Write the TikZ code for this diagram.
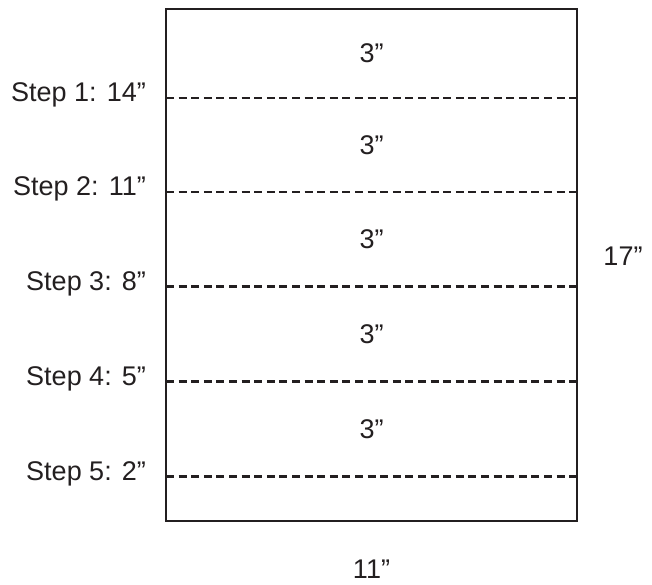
\documentclass[tikz,border=0pt]{standalone}
\usepackage{fontspec}
\setmainfont{Liberation Sans}
\usetikzlibrary{positioning}
\definecolor{ink}{HTML}{231F20}
\tikzset{
    sheet/.style={draw=ink, line width=2.2pt}, % outline of the paper
    fold/.style={draw=ink, line width=2.2pt, dash pattern=on 8pt off 4.6pt}, % the fold lines
    label text/.style={inner sep=0pt, text=ink, font=\fontsize{27}{32}\selectfont},
    steplabel/.style={label text, yshift=-3.5pt}, % baseline sits just below the fold
    sizelabel/.style={label text},
}

\begin{document}
\begin{tikzpicture}[x=1pt, y=-1pt]
    \useasboundingbox (0,0) rectangle (652,584);

    % corners of the sheet
    \coordinate (nw) at (166,9);
    \coordinate (se) at (577,521);
    % left and right ends of the folds
    \coordinate (f1w) at (166,97.7);  \coordinate (f1e) at (577,97.7);
    \coordinate (f2w) at (166,192);   \coordinate (f2e) at (577,192);
    \coordinate (f3w) at (166,286.5); \coordinate (f3e) at (577,286.5);
    \coordinate (f4w) at (166,381.5); \coordinate (f4e) at (577,381.5);
    \coordinate (f5w) at (166,476.5); \coordinate (f5e) at (577,476.5);

    \draw[fold] (f1w) -- (f1e);
    \draw[fold] (f2w) -- (f2e);
    \draw[fold] (f3w) -- (f3e);
    \draw[fold] (f4w) -- (f4e);
    \draw[fold] (f5w) -- (f5e);
    \draw[sheet] (nw) rectangle (se);

    \node[steplabel, left=20pt of f1w, anchor=base east] (step1) {Step 1: 14”};
    \node[steplabel, left=20pt of f2w, anchor=base east] (step2) {Step 2: 11”};
    \node[steplabel, left=20pt of f3w, anchor=base east] (step3) {Step 3: 8”};
    \node[steplabel, left=20pt of f4w, anchor=base east] (step4) {Step 4: 5”};
    \node[steplabel, left=20pt of f5w, anchor=base east] (step5) {Step 5: 2”};

    \node[sizelabel] (band1) at (371.5,53.4) {3”};
    \node[sizelabel] (band2) at (371.5,145)  {3”};
    \node[sizelabel] (band3) at (371.5,239)  {3”};
    \node[sizelabel] (band4) at (371.5,334)  {3”};
    \node[sizelabel] (band5) at (371.5,429)  {3”};

    \node[sizelabel] (height) at (623,256)   {17”};
    \node[sizelabel] (width)  at (371.5,569) {11”};
\end{tikzpicture}
\end{document}
